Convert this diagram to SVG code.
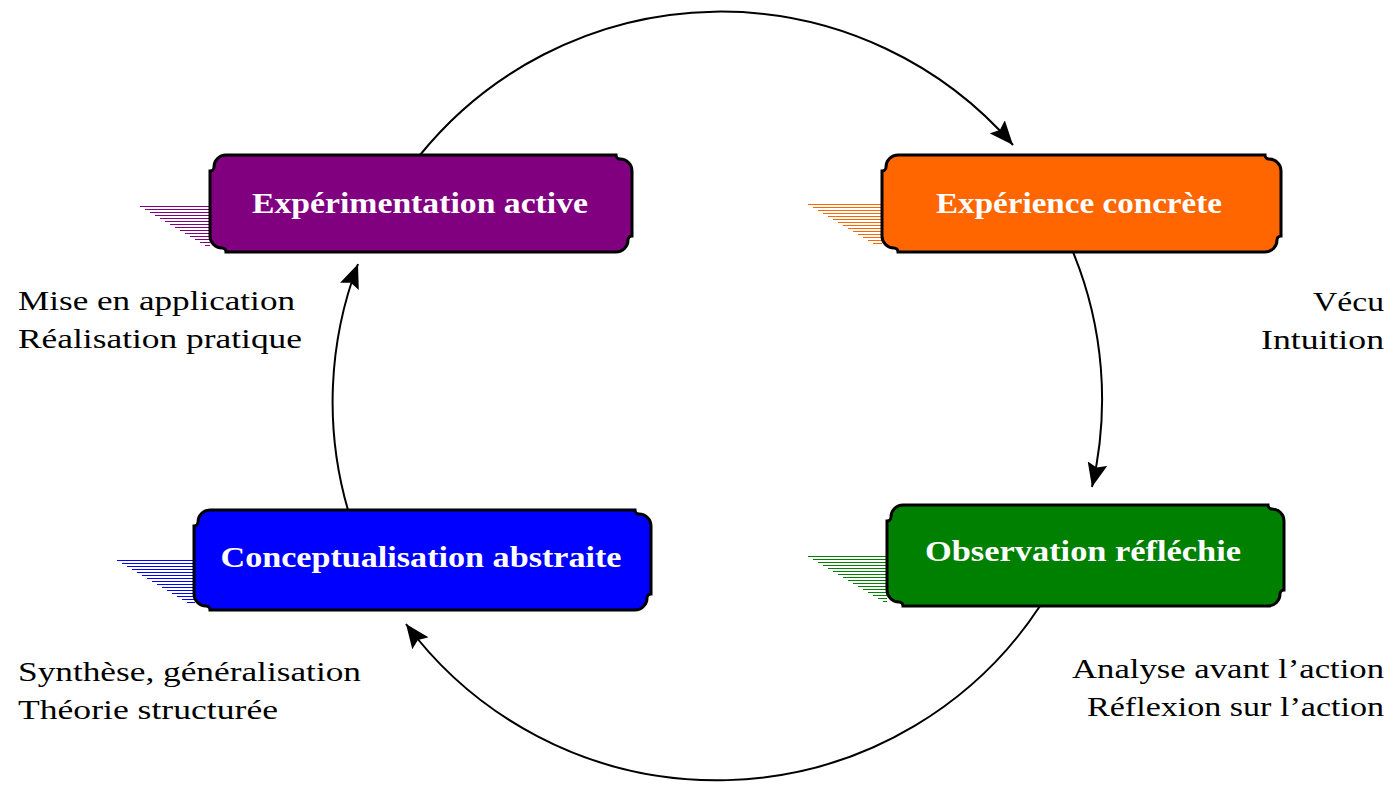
<svg xmlns="http://www.w3.org/2000/svg" width="1393" height="786" viewBox="0 0 1393 786">
<defs>
<style>
.box{stroke:#000;stroke-width:3;}
.title{font-family:"Liberation Serif","DejaVu Serif",serif;font-weight:bold;font-size:29px;fill:#fff;text-anchor:middle;}
.side{font-family:"Liberation Serif","DejaVu Serif",serif;font-size:28px;fill:#000;}
.conn{fill:none;stroke:#000;stroke-width:2;}
.hatch{fill:none;stroke-width:1;shape-rendering:crispEdges;}
</style>
<marker id="arr" markerUnits="userSpaceOnUse" markerWidth="26" markerHeight="20" viewBox="0 0 26 20" refX="24" refY="10" orient="auto">
<path d="M0,0 L24,10 L0,20 L4,10 Z" fill="#000"/>
</marker>
</defs>
<rect width="1393" height="786" fill="#fff"/>

<g id="connectors">
<path class="conn" d="M420,155 A387,387 0 0 1 1013,145" marker-end="url(#arr)"/>
<path class="conn" d="M1073,252 A387,387 0 0 1 1092,487" marker-end="url(#arr)"/>
<path class="conn" d="M1040,606 A387,387 0 0 1 406,624" marker-end="url(#arr)"/>
<path class="conn" d="M348,510 A387,387 0 0 1 358,264" marker-end="url(#arr)"/>
</g>

<g id="node-experimentation">
<path class="hatch" stroke="#800080" d="M140,206.5H210M145,209.5H210M150,212.5H210M155,215.5H210M160,218.5H210M165,221.5H210M170,224.5H210M175,227.5H210M180,230.5H210M185,233.5H210M190,236.5H210M195,239.5H210M200,242.5H210M205,245.5H210"/>
<path class="box" fill="#800080" d="M226,155 H616 A4,4 0 0 0 620,159 A12,12 0 0 1 632,171 V236 A4,4 0 0 0 628,240 A12,12 0 0 1 616,252 H226 A4,4 0 0 0 222,248 A12,12 0 0 1 210,236 V171 A4,4 0 0 0 214,167 A12,12 0 0 1 226,155 Z"/>
<text class="title" x="420" y="213" textLength="336" lengthAdjust="spacingAndGlyphs">Expérimentation active</text>
</g>

<g id="node-experience">
<path class="hatch" stroke="#FF6600" d="M808,204.5H882M813,207.5H882M818,210.5H882M823,213.5H882M828,216.5H882M833,219.5H882M838,222.5H882M843,225.5H882M848,228.5H882M853,231.5H882M858,234.5H882M863,237.5H882M868,240.5H882M873,243.5H882"/>
<path class="box" fill="#FF6600" d="M898,155 H1265 A4,4 0 0 0 1269,159 A12,12 0 0 1 1281,171 V236 A4,4 0 0 0 1277,240 A12,12 0 0 1 1265,252 H898 A4,4 0 0 0 894,248 A12,12 0 0 1 882,236 V171 A4,4 0 0 0 886,167 A12,12 0 0 1 898,155 Z"/>
<text class="title" x="1079" y="213" textLength="286" lengthAdjust="spacingAndGlyphs">Expérience concrète</text>
</g>

<g id="node-conceptualisation">
<path class="hatch" stroke="#0000FF" d="M117,560.5H195M122,563.5H195M127,566.5H195M132,569.5H195M137,572.5H195M142,575.5H195M147,578.5H195M152,581.5H195M157,584.5H195M162,587.5H195M167,590.5H195M172,593.5H195M177,596.5H195M182,599.5H195M187,602.5H195"/>
<path class="box" fill="#0000FF" d="M210,510 H635 A4,4 0 0 0 639,514 A12,12 0 0 1 651,526 V594 A4,4 0 0 0 647,598 A12,12 0 0 1 635,610 H210 A4,4 0 0 0 206,606 A12,12 0 0 1 194,594 V526 A4,4 0 0 0 198,522 A12,12 0 0 1 210,510 Z"/>
<text class="title" x="421" y="567" textLength="401" lengthAdjust="spacingAndGlyphs">Conceptualisation abstraite</text>
</g>

<g id="node-observation">
<path class="hatch" stroke="#008000" d="M808,556.5H887M813,559.5H887M818,562.5H887M823,565.5H887M828,568.5H887M833,571.5H887M838,574.5H887M843,577.5H887M848,580.5H887M853,583.5H887M858,586.5H887M863,589.5H887M868,592.5H887M873,595.5H887M878,598.5H887M883,601.5H887"/>
<path class="box" fill="#008000" d="M903,505 H1268 A4,4 0 0 0 1272,509 A12,12 0 0 1 1284,521 V590 A4,4 0 0 0 1280,594 A12,12 0 0 1 1268,606 H903 A4,4 0 0 0 899,602 A12,12 0 0 1 887,590 V521 A4,4 0 0 0 891,517 A12,12 0 0 1 903,505 Z"/>
<text class="title" x="1083" y="561" textLength="316" lengthAdjust="spacingAndGlyphs">Observation réfléchie</text>
</g>

<g id="labels">
<text class="side" x="18" y="310" textLength="277" lengthAdjust="spacingAndGlyphs">Mise en application</text>
<text class="side" x="18" y="348" textLength="284" lengthAdjust="spacingAndGlyphs">Réalisation pratique</text>
<text class="side" x="1313" y="311" textLength="71" lengthAdjust="spacingAndGlyphs">Vécu</text>
<text class="side" x="1261" y="349" textLength="123" lengthAdjust="spacingAndGlyphs">Intuition</text>
<text class="side" x="18" y="681" textLength="343" lengthAdjust="spacingAndGlyphs">Synthèse, généralisation</text>
<text class="side" x="18" y="719" textLength="260" lengthAdjust="spacingAndGlyphs">Théorie structurée</text>
<text class="side" x="1072" y="678" textLength="312" lengthAdjust="spacingAndGlyphs">Analyse avant l’action</text>
<text class="side" x="1087" y="716" textLength="297" lengthAdjust="spacingAndGlyphs">Réflexion sur l’action</text>
</g>
</svg>
